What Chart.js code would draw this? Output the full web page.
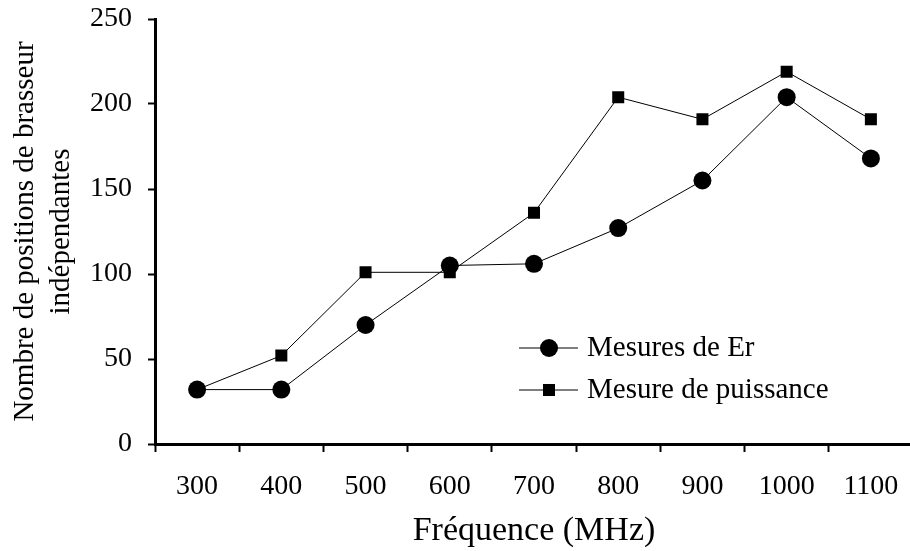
<!DOCTYPE html>
<html>
<head>
<meta charset="utf-8">
<script src="https://cdn.jsdelivr.net/npm/chart.js@4/dist/chart.umd.min.js"></script>
<style>
  html, body { margin: 0; padding: 0; background: #fff; overflow: hidden; }
  #wrap { width: 910px; height: 551px; overflow: hidden; }
</style>
</head>
<body>
<div id="wrap"><canvas id="freq-chart" width="922" height="551"></canvas></div>
<script>
const frequencies = ['300', '400', '500', '600', '700', '800', '900', '1000', '1100'];
const mesuresEr = [32, 32, 70, 105, 106, 127, 155, 204, 168];
const mesurePuissance = [32, 52, 101, 101, 136, 204, 191, 219, 191];
const yTicks = [0, 50, 100, 150, 200, 250];

const serif = '"Liberation Serif", "Times New Roman", serif';

// legend drawn inside the plot, bottom right
const insideLegend = {
  id: 'insideLegend',
  afterDraw(chart) {
    const ctx = chart.ctx;
    const rows = [348, 390];
    chart.data.datasets.forEach((ds, i) => {
      const y = rows[i];
      ctx.save();
      ctx.strokeStyle = ds.borderColor;
      ctx.lineWidth = 1;
      ctx.beginPath();
      ctx.moveTo(519, y);
      ctx.lineTo(578, y);
      ctx.stroke();
      ctx.fillStyle = ds.pointBackgroundColor;
      if (ds.pointStyle === 'circle') {
        ctx.beginPath();
        ctx.arc(549, y, ds.pointRadius, 0, Math.PI * 2);
        ctx.fill();
      } else {
        const s = ds.pointRadius * Math.SQRT1_2;
        ctx.fillRect(549 - s, y - s, 2 * s, 2 * s);
      }
      ctx.fillStyle = '#000';
      ctx.font = '29px ' + serif;
      ctx.textBaseline = 'middle';
      ctx.textAlign = 'left';
      ctx.fillText(ds.label, 587, y);
      ctx.restore();
    });
  }
};

const config = {
  type: 'line',
  data: {
    labels: frequencies,
    datasets: [{
      label: 'Mesures de Er',
      data: mesuresEr,
      borderColor: '#000',
      borderWidth: 1,
      pointStyle: 'circle',
      pointRadius: 9,
      pointBackgroundColor: '#000',
      pointBorderWidth: 0,
      tension: 0
    },
    {
      label: 'Mesure de puissance',
      data: mesurePuissance,
      borderColor: '#000',
      borderWidth: 1,
      pointStyle: 'rect',
      pointRadius: 8.5,
      pointBackgroundColor: '#000',
      pointBorderWidth: 0,
      tension: 0
    }]
  },
  options: {
    responsive: false,
    animation: false,
    devicePixelRatio: 1,
    layout: {
      padding: { top: 19, right: 2, left: 0, bottom: 0 }
    },
    plugins: {
      legend: { display: false },
      tooltip: { enabled: false }
    },
    scales: {
      x: {
        offset: true,
        grid: {
          offset: true,
          drawOnChartArea: false,
          drawTicks: true,
          tickLength: 8,
          tickWidth: 2,
          color: '#000'
        },
        border: { display: true, color: '#000', width: 3 },
        ticks: {
          color: '#000',
          font: { family: serif, size: 28 },
          padding: 18,
          maxRotation: 0,
          autoSkip: false
        },
        title: {
          display: true,
          text: 'Fréquence (MHz)',
          color: '#000',
          font: { family: serif, size: 34 },
          padding: { top: 0, bottom: 0 }
        },
        afterFit(scale) { scale.height = 107; }
      },
      y: {
        min: 0,
        max: 250,
        afterBuildTicks(scale) { scale.ticks = yTicks.map(v => ({ value: v })); },
        grid: {
          drawOnChartArea: false,
          drawTicks: true,
          tickLength: 7,
          tickWidth: 2,
          color: '#000'
        },
        border: { display: true, color: '#000', width: 3 },
        ticks: {
          color: '#000',
          font: { family: serif, size: 28 },
          padding: 16
        },
        title: {
          display: true,
          text: ['Nombre de positions de brasseur', 'indépendantes'],
          color: '#000',
          font: { family: serif, size: 29, lineHeight: 36 / 29 },
          padding: { top: 7, bottom: 0 }
        },
        afterFit(scale) {
          scale.width = 155;
          scale.paddingTop = 0;
          scale.paddingBottom = 0;
        }
      }
    }
  },
  plugins: [insideLegend]
};

const freqChart = new Chart(document.getElementById('freq-chart'), config);
</script>
</body>
</html>
